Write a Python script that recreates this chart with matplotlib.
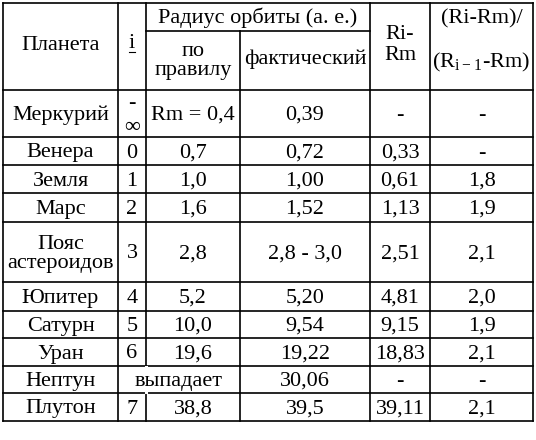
import matplotlib
matplotlib.use('Agg')
import matplotlib.pyplot as plt

# table contents
PLANETS = ['Меркурий', 'Венера', 'Земля', 'Марс', 'Пояс\nастероидов',
           'Юпитер', 'Сатурн', 'Уран', 'Нептун', 'Плутон']
I_VALS = ['-\n∞', '0', '1', '2', '3', '4', '5', '6', '', '7']
R_RULE = ['Rm = 0,4', '0,7', '1,0', '1,6', '2,8', '5,2', '10,0', '19,6', '', '38,8']
R_FACT = ['0,39', '0,72', '1,00', '1,52', '2,8 - 3,0', '5,20', '9,54', '19,22', '30,06', '39,5']
RI_RM = ['-', '0,33', '0,61', '1,13', '2,51', '4,81', '9,15', '18,83', '-', '39,11']
RATIO = ['-', '-', '1,8', '1,9', '2,1', '2,0', '1,9', '2,1', '-', '2,1']

# layout in pixels
COLS = [3, 118, 146, 240, 370, 430, 533]
ROWS = [90, 137, 165, 193, 222, 282, 311, 338, 366, 393, 421]
TOP, SUB = 3, 31

plt.rcParams['font.family'] = 'serif'
plt.rcParams['font.serif'] = ['Liberation Serif', 'DejaVu Serif']
plt.rcParams['mathtext.fontset'] = 'custom'
plt.rcParams['mathtext.rm'] = 'Liberation Serif'
fig = plt.figure(figsize=(5.36, 4.4), dpi=100)
ax = fig.add_axes([0, 0, 1, 1])
ax.set_xlim(0, 536)
ax.set_ylim(440, 0)
ax.axis('off')

lw = 1.2
# horizontal lines
ax.plot([COLS[0], COLS[-1]], [TOP, TOP], 'k', lw=lw)
ax.plot([COLS[2], COLS[4]], [SUB, SUB], 'k', lw=lw)
for y in ROWS:
    ax.plot([COLS[0], COLS[-1]], [y, y], 'k', lw=lw)
# vertical lines
for j, x in enumerate(COLS):
    if j == 3:
        ax.plot([x, x], [SUB, ROWS[-1]], 'k', lw=lw)
        continue
    ax.plot([x, x], [TOP, ROWS[-1]], 'k', lw=lw)

fs = 16
dy = 2
def cx(a, b):
    return (COLS[a] + COLS[b]) / 2

def txt(x, y, s, **kw):
    ax.text(x, y + dy, s, ha='center', va='center', fontsize=fs, **kw)

# header
txt(cx(0, 1), 44, 'Планета')
txt(cx(1, 2), 41, 'i')
ax.plot([129, 135], [52, 52], 'k', lw=0.8)
txt(cx(2, 4), 16, 'Радиус орбиты (а. е.)')
txt(cx(2, 3), 59, 'по\nправилу', linespacing=1.0)
txt(cx(3, 4), 57, 'фактический')
txt(cx(4, 5), 43, 'Ri-\nRm', linespacing=1.1)
txt(cx(5, 6), 17, '(Ri-Rm)/')
txt(cx(5, 6), 60, r'(R$_{\mathrm{i-1}}$-Rm)')

# body
for k, planet in enumerate(PLANETS):
    yc = (ROWS[k] + ROWS[k + 1]) / 2
    txt(cx(0, 1), yc, planet, linespacing=1.05)
    if planet == 'Нептун':
        txt(cx(1, 3), yc, 'выпадает')
    else:
        txt(cx(1, 2), yc, I_VALS[k], linespacing=1.3)
        txt(cx(2, 3), yc, R_RULE[k])
    txt(cx(3, 4), yc, R_FACT[k])
    txt(cx(4, 5), yc, RI_RM[k])
    txt(cx(5, 6), yc, RATIO[k])

# neptune row: the i / rule split line is absent
ax.plot([COLS[2], COLS[2]], [ROWS[8] + 0.8, ROWS[9] - 0.8], color='white', lw=lw + 1)

fig.savefig('out.png', dpi=100)
